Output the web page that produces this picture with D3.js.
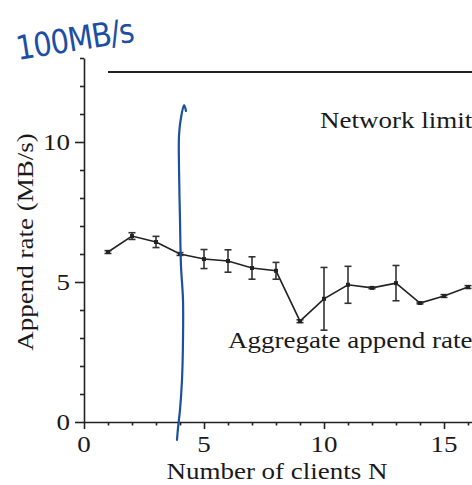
<!DOCTYPE html>
<html>
<head>
<meta charset="utf-8">
<script src="https://cdn.jsdelivr.net/npm/d3@7"></script>
<style>
  html, body { margin: 0; padding: 0; background: #fff; }
  svg { display: block; }
  text.lbl { font-family: "Liberation Serif", "Times New Roman", serif; fill: #1a1a1a; }
</style>
</head>
<body>
<svg id="chart" width="472" height="485"></svg>
<script>
// ---- data ----
const clients = [1, 2, 3, 4, 5, 6, 7, 8, 9, 10, 11, 12, 13, 14, 15, 16];
const appendRate = [6.07, 6.64, 6.43, 6.0, 5.82, 5.75, 5.5, 5.4, 3.6, 4.4, 4.9, 4.79, 4.96, 4.25, 4.5, 4.82];
const appendErr = [0.05, 0.12, 0.2, 0.05, 0.34, 0.4, 0.4, 0.3, 0.05, 1.12, 0.66, 0.03, 0.63, 0.03, 0.05, 0.05];
const networkLimit = 12.5;
const networkRange = [1, 16.5];
const xTicks = [0, 1, 2, 3, 4, 5, 6, 7, 8, 9, 10, 11, 12, 13, 14, 15, 16];
const xTickLabels = [0, 5, 10, 15];
const yTicks = [0, 1, 2, 3, 4, 5, 6, 7, 8, 9, 10, 11, 12, 13];
const yTickLabels = [0, 5, 10];
// hand-drawn annotation (in chart units)
const annotationText = "100MB/s";
const penStroke = [[4.25, 11.11], [4.17, 11.32], [4.04, 10.86], [3.96, 10.25], [3.96, 9.0], [4.0, 7.21],
                   [4.04, 5.61], [4.125, 4.36], [4.125, 2.93], [4.083, 1.5], [4.0, 0.43], [3.917, -0.21], [3.875, -0.64]];

// ---- layout ----
const svg = d3.select("#chart");
const x = d3.scaleLinear().domain([0, 16.5]).range([84, 480]);
const y = d3.scaleLinear().domain([0, 13]).range([422, 58]);
const FS = 22.7, SX = 1.19;
const ink = "#222";

function label(g, px, py, txt, anchor, rot) {
  return g.append("text").attr("class", "lbl")
    .attr("transform", `translate(${px},${py})` + (rot ? ` rotate(${rot})` : "") + ` scale(${SX},1)`)
    .attr("text-anchor", anchor)
    .attr("font-size", FS)
    .text(txt);
}

// x axis
const xAxis = svg.append("g").attr("transform", `translate(0,${y(0)})`)
  .call(d3.axisBottom(x).tickValues(xTicks).tickSizeOuter(0).tickFormat(""));
xAxis.select(".domain").attr("stroke", ink).attr("stroke-width", 1.6);
xAxis.selectAll(".tick line")
  .attr("stroke", ink).attr("stroke-width", 1.6)
  .attr("y2", d => xTickLabels.includes(d) ? 7 : 3.5);

// y axis
const yAxis = svg.append("g").attr("transform", `translate(${x(0)},0)`)
  .call(d3.axisLeft(y).tickValues(yTicks).tickSizeOuter(0).tickFormat(""));
yAxis.select(".domain").attr("stroke", ink).attr("stroke-width", 1.6);
yAxis.selectAll(".tick line")
  .attr("stroke", ink).attr("stroke-width", 1.6)
  .attr("x2", d => yTickLabels.includes(d) ? -9 : -4);

// tick labels
const labels = svg.append("g");
xTickLabels.forEach(v => label(labels, x(v), y(0) + 30, v, "middle"));
yTickLabels.forEach(v => label(labels, x(0) - 14, y(v) + 8, v, "end"));

// axis titles
label(labels, 277, 479, "Number of clients N", "middle");
label(labels, 33, 242, "Append rate (MB/s)", "middle", -90);

// network limit
svg.append("line")
  .attr("x1", x(networkRange[0])).attr("x2", x(networkRange[1]))
  .attr("y1", y(networkLimit)).attr("y2", y(networkLimit))
  .attr("stroke", ink).attr("stroke-width", 1.8);
label(labels, 320, 128, "Network limit", "start");

// data series
const pts = clients.map((c, i) => ({ c, v: appendRate[i], e: appendErr[i] }));
svg.append("path").datum(pts)
  .attr("fill", "none").attr("stroke", ink).attr("stroke-width", 1.6)
  .attr("d", d3.line().x(d => x(d.c)).y(d => y(d.v)));

const eb = svg.append("g").attr("stroke", "#333").attr("stroke-width", 1.6);
pts.forEach(d => {
  eb.append("line").attr("x1", x(d.c)).attr("x2", x(d.c)).attr("y1", y(d.v - d.e)).attr("y2", y(d.v + d.e));
  [d.v - d.e, d.v + d.e].forEach(t => eb.append("line")
    .attr("x1", x(d.c) - 3.5).attr("x2", x(d.c) + 3.5).attr("y1", y(t)).attr("y2", y(t)));
});
svg.append("g").selectAll("rect").data(pts).join("rect")
  .attr("x", d => x(d.c) - 2).attr("y", d => y(d.v) - 2)
  .attr("width", 4).attr("height", 4).attr("fill", ink);

label(labels, 228, 348, "Aggregate append rate", "start");

// hand annotation (blue pen)
const pen = "#1c4fa3";
svg.append("path").datum(penStroke)
  .attr("fill", "none").attr("stroke", pen).attr("stroke-width", 2.2)
  .attr("stroke-linecap", "round")
  .attr("d", d3.line().x(d => x(d[0])).y(d => y(d[1])).curve(d3.curveCatmullRom));
svg.append("text")
  .attr("transform", "translate(18,60) rotate(-9) scale(1,1.15)")
  .style("font-family", "'DejaVu Sans', sans-serif")
  .style("font-size", "29px")
  .style("letter-spacing", "-1px")
  .style("fill", pen)
  .text(annotationText);
</script>
</body>
</html>
